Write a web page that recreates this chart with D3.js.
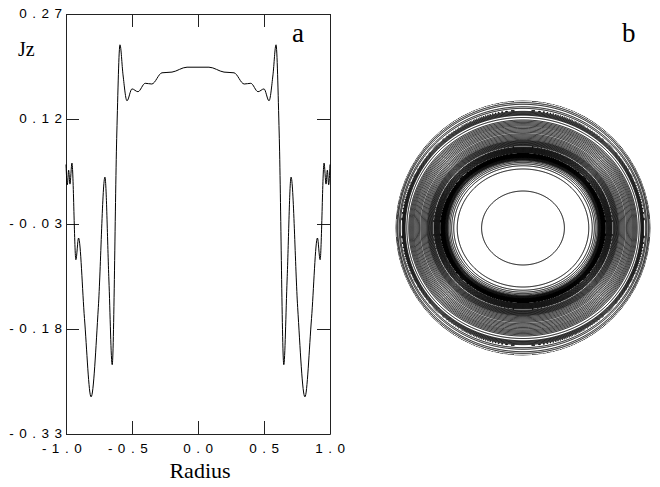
<!DOCTYPE html>
<html>
<head>
<meta charset="utf-8">
<script src="https://cdn.jsdelivr.net/npm/d3@7"></script>
<style>
  body { margin: 0; background: #fff; }
  svg { display: block; }
  .tick text { font-family: "Liberation Sans", Arial, sans-serif; font-size: 13.5px; letter-spacing: 5.5px; fill: #000; }
  .tick line, .domain { stroke: #222; }
  .serif { font-family: "Liberation Serif", "Times New Roman", serif; fill: #000; }
</style>
</head>
<body>
<svg id="chart" width="660" height="487"></svg>
<script>
// Jz profile
let radius = [-1.000, -0.990, -0.980, -0.970, -0.955, -0.925, -0.905, -0.860, -0.810, -0.755,
    -0.705, -0.675, -0.650, -0.615, -0.591, -0.568, -0.538, -0.500, -0.455, -0.400,
    -0.350, -0.273, -0.197, -0.083, 0.000,
    0.083, 0.197, 0.273, 0.350, 0.400, 0.455, 0.500, 0.538, 0.568, 0.591,
    0.615, 0.650, 0.675, 0.705, 0.755, 0.810, 0.860, 0.905, 0.925, 0.955,
    0.970, 0.980, 0.990, 1.000];
let jz = [0.055, 0.026, 0.047, 0.027, 0.057, -0.081, -0.050, -0.165, -0.277, -0.149,
    0.037, -0.110, -0.231, 0.100, 0.226, 0.183, 0.146, 0.163, 0.159, 0.171,
    0.170, 0.186, 0.187, 0.194, 0.194,
    0.194, 0.187, 0.186, 0.170, 0.171, 0.159, 0.163, 0.146, 0.183, 0.226,
    0.100, -0.231, -0.110, 0.037, -0.149, -0.277, -0.165, -0.050, -0.081, 0.057,
    0.027, 0.047, 0.026, 0.055];

let xTicks = [-1, -0.5, 0, 0.5, 1];
let xTickLabels = ["-1.0", "-0.5", "0.0", "0.5", "1.0"];
let yTicks = [0.27, 0.12, -0.03, -0.18, -0.33];
let yTickLabels = ["0.27", "0.12", "-0.03", "-0.18", "-0.33"];

// contour levels for panel b
let contourLevels = [-0.265, -0.245, -0.225, -0.205, -0.185, -0.165, -0.145, -0.125, -0.105, -0.085,
    -0.065, -0.045, -0.025, -0.005, 0.015, 0.035, 0.055, 0.075, 0.095, 0.115,
    0.135, 0.155, 0.175, 0.195, 0.215];
let verticalSquash = 0.12;

var svg = d3.select("#chart");

// ---------- panel a ----------
var x = d3.scaleLinear().domain([-1, 1]).range([66, 330]);
var y = d3.scaleLinear().domain([-0.33, 0.27]).range([434, 14]);

var bottom = svg.append("g")
    .attr("transform", "translate(0,434)")
    .call(d3.axisBottom(x).tickValues(xTicks).tickSizeInner(-13).tickSizeOuter(0).tickPadding(9.5)
        .tickFormat(function (d) { return xTickLabels[xTicks.indexOf(d)]; }));
bottom.selectAll(".tick text")
    .attr("dx", function (d) { return d < 0 ? -2 : 2.5; });

var left = svg.append("g")
    .attr("transform", "translate(66,0)")
    .call(d3.axisLeft(y).tickValues(yTicks).tickSizeInner(-13).tickSizeOuter(0).tickPadding(4)
        .tickFormat(function (d) { return yTickLabels[yTicks.indexOf(d)]; }));
left.selectAll(".tick text").attr("dx", 5.5).attr("dy", "0.25em");

svg.append("g")
    .attr("transform", "translate(0,14)")
    .call(d3.axisTop(x).tickValues(xTicks).tickSizeInner(-13).tickSizeOuter(0).tickFormat(""));
svg.append("g")
    .attr("transform", "translate(330,0)")
    .call(d3.axisRight(y).tickValues(yTicks).tickSizeInner(-13).tickSizeOuter(0).tickFormat(""));

var line = d3.line()
    .x(function (d, i) { return x(radius[i]); })
    .y(function (d) { return y(d); })
    .curve(d3.curveMonotoneX);

svg.append("path")
    .datum(jz)
    .attr("d", line)
    .attr("fill", "none")
    .attr("stroke", "#000")
    .attr("stroke-width", 1);

svg.append("text").attr("class", "serif").attr("x", 18).attr("y", 56)
    .style("font-size", "20px").text("Jz");
svg.append("text").attr("class", "serif").attr("x", 200).attr("y", 478)
    .attr("text-anchor", "middle").style("font-size", "22px").text("Radius");
svg.append("text").attr("class", "serif").attr("x", 292).attr("y", 42)
    .style("font-size", "27px").text("a");
svg.append("text").attr("class", "serif").attr("x", 622).attr("y", 42)
    .style("font-size", "27px").text("b");

// ---------- panel b ----------
var cx = 523, cy = 228, R = 127, n = 420, ext = 1.05;
var profile = d3.scaleLinear().domain(radius.slice(24)).range(jz.slice(24)).clamp(true);

var values = new Array(n * n);
for (var j = 0; j < n; j++) {
    for (var i = 0; i < n; i++) {
        var gx = ((i + 0.5) / n * 2 - 1) * ext;
        var gy = ((j + 0.5) / n * 2 - 1) * ext;
        var rho = Math.sqrt(gx * gx + gy * gy);
        var s2 = rho > 0 ? (gy * gy) / (rho * rho) : 0;
        var re = Math.min(1, rho * (1 + verticalSquash * s2 * (1 - Math.pow(Math.min(rho, 1), 4))));
        values[j * n + i] = profile(re);
    }
}

var contours = d3.contours().size([n, n]).thresholds(contourLevels)(values);
var proj = d3.geoIdentity().scale(2 * R * ext / n).translate([cx - R * ext, cy - R * ext]);

svg.append("clipPath").attr("id", "disk")
    .append("circle").attr("cx", cx).attr("cy", cy).attr("r", R + 0.5);

svg.append("g")
    .attr("clip-path", "url(#disk)")
    .selectAll("path")
    .data(contours)
    .enter().append("path")
    .attr("d", d3.geoPath(proj))
    .attr("fill", "none")
    .attr("stroke", "#000")
    .attr("stroke-width", 1);
</script>
</body>
</html>
